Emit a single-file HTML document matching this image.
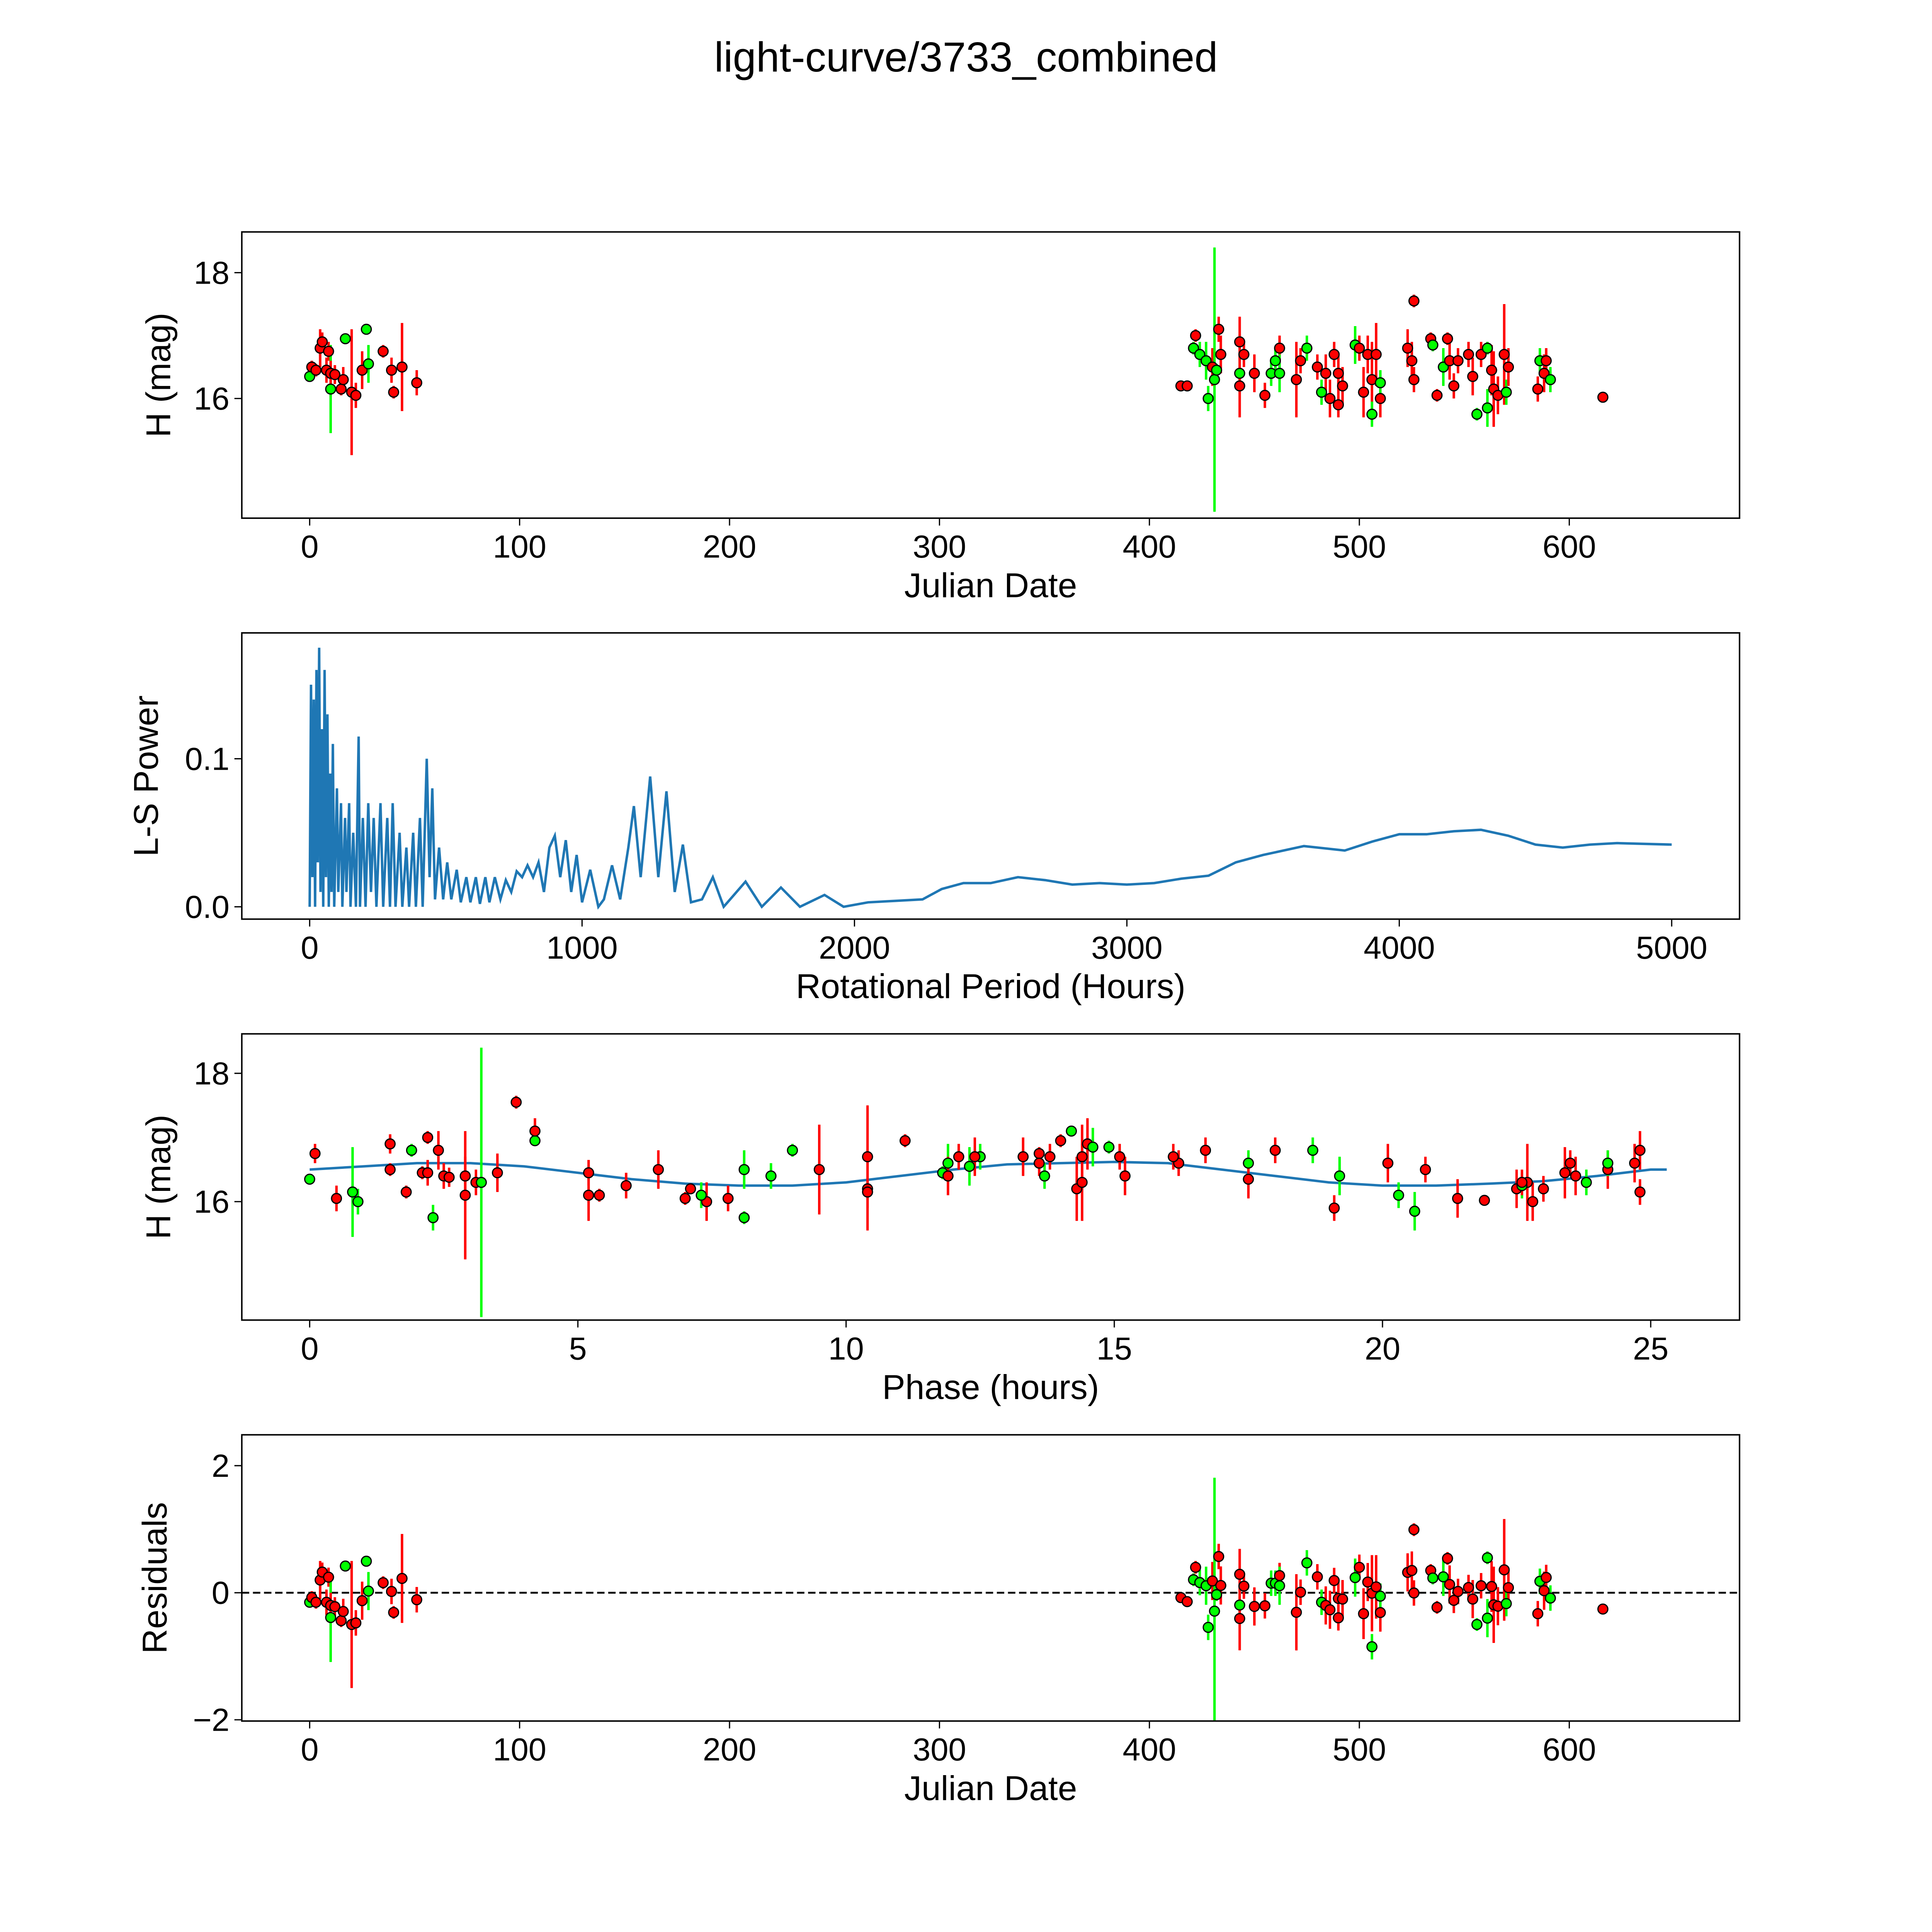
<!DOCTYPE html>
<html><head><meta charset="utf-8"><style>html,body{margin:0;padding:0;background:#fff;overflow:hidden;width:100vw;height:100vh}svg{display:block;width:100vw;height:100vh}</style></head>
<body>
<svg id="fig" xmlns="http://www.w3.org/2000/svg" viewBox="0 0 1566 1566" preserveAspectRatio="xMidYMid meet" font-family="Liberation Sans, DejaVu Sans, sans-serif">
<rect width="1566" height="1566" fill="#fff"/>
<text x="783" y="58" font-size="34" text-anchor="middle">light-curve/3733_combined</text>
</svg>
<script>
const jd=[0,1,3,5,6,8,9,10,10,12,15,16,17,20,22,25,27,28,35,39,40,44,51,415,418,421,422,424,427,428,430,431,432,433,434,443,443,443,445,450,455,458,460,462,462,470,472,475,480,482,484,486,488,490,490,492,498,500,502,504,506,506,508,510,510,523,525,526,526,534,535,537,540,542,543,545,547,552,554,556,558,561,561,563,564,566,569,570,571,585,586,588,589,591,616];
const mag=[16.35,16.5,16.45,16.8,16.9,16.45,16.75,16.15,16.4,16.38,16.15,16.3,16.95,16.1,16.05,16.45,17.1,16.55,16.75,16.45,16.1,16.5,16.25,16.2,16.2,16.8,17.0,16.7,16.6,16.0,16.5,16.3,16.45,17.1,16.7,16.9,16.4,16.2,16.7,16.4,16.05,16.4,16.6,16.8,16.4,16.3,16.6,16.8,16.5,16.1,16.4,16.0,16.7,16.4,15.9,16.2,16.85,16.8,16.1,16.7,16.3,15.75,16.7,16.0,16.25,16.8,16.6,17.55,16.3,16.95,16.85,16.05,16.5,16.95,16.6,16.2,16.6,16.7,16.35,15.75,16.7,16.8,15.85,16.45,16.15,16.05,16.7,16.1,16.5,16.15,16.6,16.4,16.6,16.3,16.02];
const err=[0.05,0.1,0.1,0.3,0.15,0.2,0.15,0.7,0.2,0.15,0.1,0.2,0.05,1.0,0.2,0.3,0.05,0.3,0.1,0.2,0.1,0.7,0.2,0.05,0.05,0.1,0.1,0.2,0.3,0.2,0.3,2.1,0.1,0.2,0.3,0.4,0.2,0.5,0.2,0.3,0.2,0.2,0.2,0.2,0.3,0.6,0.2,0.2,0.2,0.2,0.3,0.3,0.2,0.3,0.2,0.3,0.3,0.2,0.4,0.3,0.6,0.2,0.5,0.3,0.2,0.3,0.3,0.1,0.2,0.1,0.1,0.1,0.3,0.1,0.3,0.2,0.2,0.2,0.3,0.1,0.2,0.1,0.3,0.4,0.6,0.3,0.8,0.2,0.3,0.2,0.2,0.3,0.2,0.2,0.05];
const filt="grrrrrrgrrrrgrrrggrrrrrrrgrgggrggrrrgrrrrggrgrrgrgrrrrrrgrrrrgrrgrrrrrgrgrrrrrrgrggrrrrgrrgrrgr";
const phase=[0.0,1.5,2.1,2.4,1.5,2.2,0.1,0.8,2.5,2.6,1.8,3.1,4.2,2.9,0.5,3.5,14.2,12.3,13.6,5.2,5.4,9.5,5.9,7.1,10.4,1.9,2.2,12.5,11.9,0.9,6.5,3.2,11.8,4.2,13.3,14.5,13.7,14.3,13.8,15.2,7.8,8.6,17.5,16.7,19.2,14.4,13.6,18.7,20.8,20.3,2.9,7.4,12.1,11.9,19.1,22.5,14.6,18.0,5.2,12.4,22.7,2.3,14.4,22.8,22.6,24.8,20.1,3.85,22.6,14.0,14.9,7.0,8.1,11.1,24.7,23.0,16.2,15.1,17.5,8.1,16.1,9.0,20.6,23.4,10.4,21.4,10.4,7.3,24.2,24.8,24.2,23.6,23.5,23.8,21.9];
const lsPeriod=[0,5,10,15,20,25,30,35,40,45,50,55,60,65,70,75,80,85,90,100,105,115,120,130,135,145,150,160,170,180,185,195,205,215,225,235,245,260,270,285,295,305,315,330,340,355,365,380,390,405,415,430,440,450,460,475,490,505,520,540,555,575,590,610,625,645,660,680,700,720,740,760,780,800,820,840,860,880,900,920,940,960,980,1000,1030,1060,1080,1110,1140,1170,1190,1215,1250,1280,1310,1340,1370,1400,1440,1480,1520,1600,1660,1730,1800,1890,1960,2050,2150,2250,2320,2400,2500,2600,2700,2800,2900,3000,3100,3200,3300,3400,3500,3650,3800,3900,4000,4100,4200,4300,4400,4500,4600,4700,4800,5000];
const lsPower=[0,0.15,0.02,0.14,0,0.16,0.03,0.175,0.01,0.12,0,0.16,0.02,0.13,0,0.09,0.01,0.11,0,0.08,0.01,0.07,0,0.06,0.01,0.07,0,0.05,0,0.115,0,0.06,0,0.07,0.01,0.06,0,0.07,0,0.06,0,0.07,0,0.05,0,0.04,0,0.05,0,0.06,0,0.1,0.02,0.08,0.005,0.04,0.005,0.03,0.005,0.025,0.003,0.02,0.003,0.02,0.002,0.02,0.003,0.02,0.005,0.018,0.01,0.024,0.02,0.028,0.02,0.03,0.01,0.04,0.048,0.02,0.045,0.01,0.035,0.003,0.025,0,0.005,0.028,0.005,0.04,0.068,0.02,0.088,0.02,0.078,0.01,0.042,0.003,0.005,0.02,0,0.017,0,0.013,0,0.008,0,0.003,0.004,0.005,0.012,0.016,0.016,0.02,0.018,0.015,0.016,0.015,0.016,0.019,0.021,0.03,0.035,0.041,0.038,0.044,0.049,0.049,0.051,0.052,0.048,0.042,0.04,0.042,0.043,0.042];
const fitPhase=[0,1,2,3,4,5,6,7,8,9,10,11,12,13,14,15,16,17,18,19,20,21,22,23,24,25,25.3];
const fitMag=[16.5,16.55,16.6,16.6,16.55,16.45,16.35,16.28,16.25,16.25,16.3,16.4,16.5,16.58,16.6,16.62,16.6,16.5,16.4,16.3,16.25,16.25,16.28,16.32,16.4,16.5,16.5];
const xTicks1=[0,100,200,300,400,500,600];
const xTicks2=[0,1000,2000,3000,4000,5000];
const xTicks3=[0,5,10,15,20,25];

const NS="http://www.w3.org/2000/svg", svg=document.getElementById('fig');
function mk(tag,attrs,parent){const e=document.createElementNS(NS,tag);for(const k in attrs)e.setAttribute(k,attrs[k]);(parent||svg).appendChild(e);return e;}
function lin(d0,d1,p0,p1){return v=>p0+(v-d0)*(p1-p0)/(d1-d0);}
const L=196,R=1410;
function panel(name,top,xs,ys,xt,xtl,yt,ytl,xlabel,ylabel,ylx){
  const g=mk('g',{});
  
  
  const cid='clip-'+name;
  const cp=mk('clipPath',{id:cid},g);mk('rect',{x:L,y:top,width:R-L,height:232},cp);
  const plot=mk('g',{'clip-path':'url(#'+cid+')'},g);
  xt.forEach((t,i)=>{const x=xs(t);mk('line',{x1:x,x2:x,y1:top+232,y2:top+238,stroke:'#000','stroke-width':1},g);
    const tx=mk('text',{x:x,y:top+264,'font-size':26,'text-anchor':'middle'},g);tx.textContent=xtl[i];
    
    });
  yt.forEach((t,i)=>{const y=ys(t);mk('line',{x1:L-6,x2:L,y1:y,y2:y,stroke:'#000','stroke-width':1},g);
    const tx=mk('text',{x:L-10,y:y+9,'font-size':26,'text-anchor':'end'},g);tx.textContent=ytl[i];
    
    });
  const xl=mk('text',{x:803,y:top+296,'font-size':28,'text-anchor':'middle'},g);xl.textContent=xlabel;
  
  
  const yl=mk('text',{x:0,y:0,'font-size':28,'text-anchor':'middle',transform:'translate('+ylx+','+(top+116)+') rotate(-90)'},g);yl.textContent=ylabel;
  
  
  return plot;
}
function frame(top){const f=mk('rect',{x:L,y:top,width:R-L,height:232,fill:'none',stroke:'#000','stroke-width':1.2});
  
  }
function points(plot,xv,yv,ev,xs,ys){
  for(let i=0;i<xv.length;i++){const c=filt[i]==='g'?'#00ff00':'#ff0000';const x=xs(xv[i]);
    const l=mk('line',{x1:x,x2:x,y1:ys(yv[i]-ev[i]),y2:ys(yv[i]+ev[i]),stroke:c,'stroke-width':2},plot);
    
    }
  for(let i=0;i<xv.length;i++){const c=filt[i]==='g'?'#00ff00':'#ff0000';
    const p=mk('circle',{cx:xs(xv[i]),cy:ys(yv[i]),r:4,fill:c,stroke:'#000','stroke-width':1},plot);
    
    }
}
const xj=lin(0,600,251,1272);
let t=188,ym=lin(16,18,323,221);
let p=panel('light-curve-panel',t,xj,ym,xTicks1,xTicks1.map(String),[16,18],['16','18'],'Julian Date','H (mag)',138);
points(p,jd,mag,err,xj,ym);frame(t);
t=513;const xp=lin(0,5000,251,1355),yp=lin(0,0.1,735,615);
p=panel('periodogram-panel',t,xp,yp,xTicks2,xTicks2.map(String),[0,0.1],['0.0','0.1'],'Rotational Period (Hours)','L-S Power',128);
let d=lsPeriod.map((v,i)=>(i?'L':'M')+xp(v).toFixed(1)+','+yp(lsPower[i]).toFixed(1)).join('');
let ln=mk('path',{d:d,fill:'none',stroke:'#1f77b4','stroke-width':2},p);


frame(t);
t=838;const xph=lin(0,25,251,1338),y3=lin(16,18,974,870);
p=panel('phase-panel',t,xph,y3,xTicks3,xTicks3.map(String),[16,18],['16','18'],'Phase (hours)','H (mag)',138);
function fitAt(ph){for(let i=1;i<fitPhase.length;i++){if(ph<=fitPhase[i]){const f=(ph-fitPhase[i-1])/(fitPhase[i]-fitPhase[i-1]);return fitMag[i-1]+f*(fitMag[i]-fitMag[i-1]);}}return fitMag[fitMag.length-1];}
d=fitPhase.map((v,i)=>(i?'L':'M')+xph(v).toFixed(1)+','+y3(fitMag[i]).toFixed(1)).join('');
ln=mk('path',{d:d,fill:'none',stroke:'#1f77b4','stroke-width':2},p);


points(p,phase,mag,err,xph,y3);frame(t);
t=1163;const y4=lin(0,2,1291,1188);
p=panel('residuals-panel',t,xj,y4,xTicks1,xTicks1.map(String),[-2,0,2],['\u22122','0','2'],'Julian Date','Residuals',135);
ln=mk('line',{x1:L,x2:R,y1:y4(0),y2:y4(0),stroke:'#000','stroke-width':1.5,'stroke-dasharray':'6,3'},p);


const resid=mag.map((m,i)=>m-fitAt(phase[i]));
points(p,jd,resid,err,xj,y4);frame(t);
</script>
</body></html>
